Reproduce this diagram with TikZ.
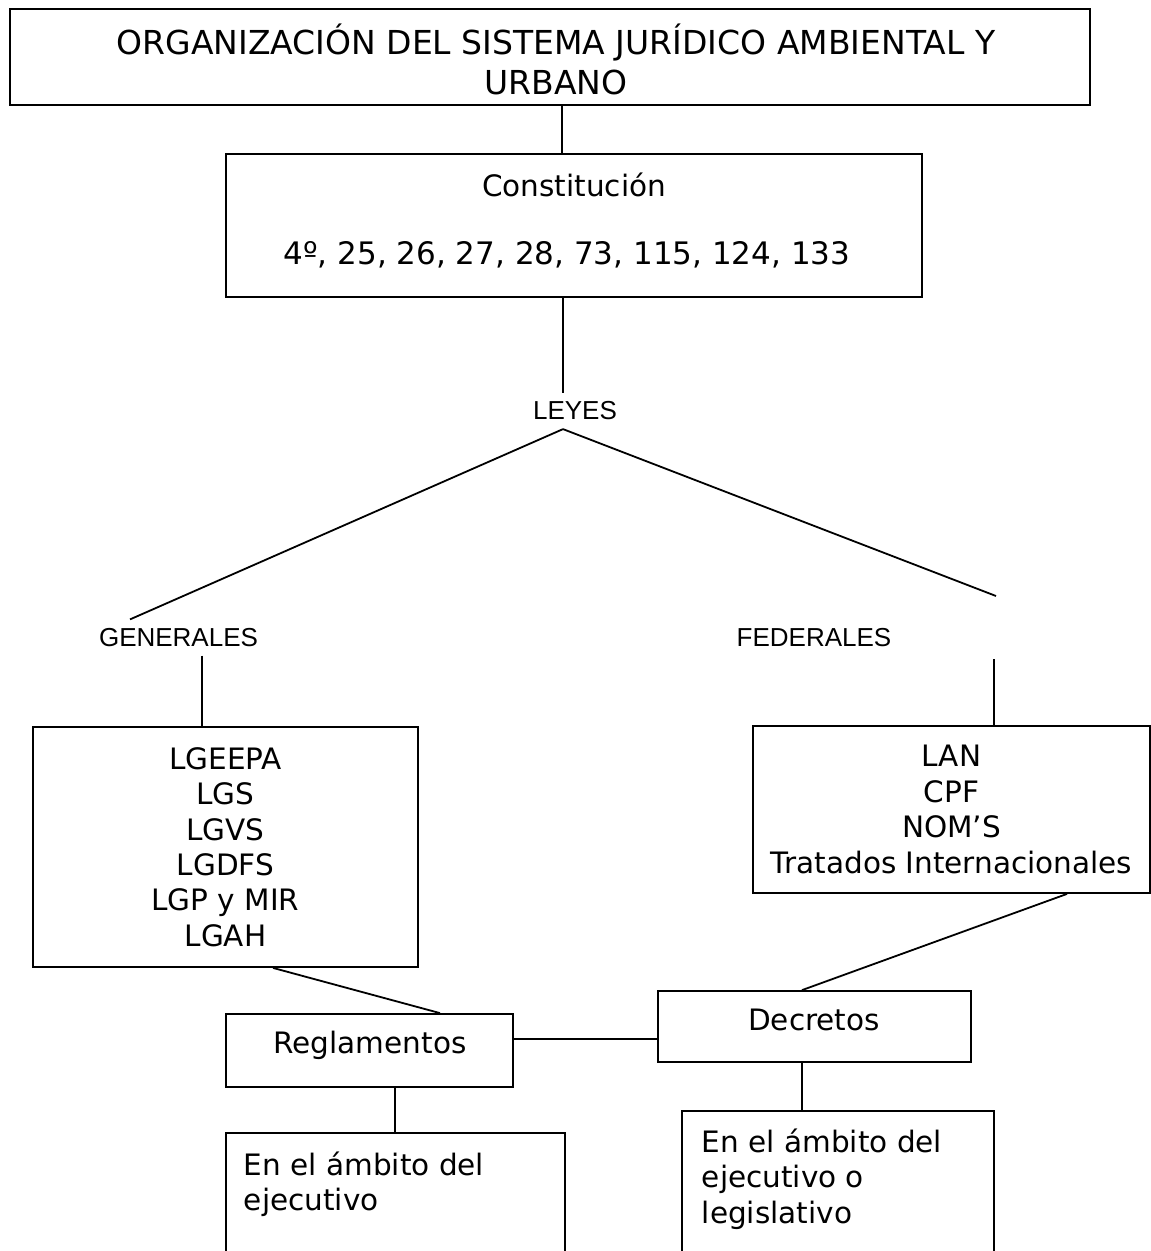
\documentclass[tikz,border=0pt]{standalone}
\usepackage{fontspec}
\setmainfont{DejaVu Sans}
\newfontfamily\arialfont{Liberation Sans}
\usepackage{tikz}

\begin{document}
\begin{tikzpicture}[x=1pt,y=-1pt,line width=1.8pt,
  caja/.style={draw,line width=1.8pt,inner sep=0pt},
  letra/.style={font=\fontsize{29.5}{35.4}\selectfont,inner sep=0pt},
  rotulo/.style={font=\arialfont\fontsize{26}{30}\selectfont,inner sep=8pt}]
\useasboundingbox (0,0) rectangle (1151,1251);

% cajas
\node[caja,minimum width=1080,minimum height=96] (titulo) at (550,57) {};
\node[letra,font=\fontsize{33}{40}\selectfont,align=center] (titulotxt) at (556,59)
  {ORGANIZACIÓN DEL SISTEMA JURÍDICO AMBIENTAL Y\\URBANO};
\node[caja,minimum width=696,minimum height=143] (constitucion) at (574,225.5) {};
\node[letra,anchor=base] (constA) at (574,196) {Constitución};
\node[letra,font=\fontsize{31}{36}\selectfont,anchor=base] (constB) at (567,264)
  {4º, 25, 26, 27, 28, 73, 115, 124, 133};

\node[rotulo] (leyes) at (575,411) {LEYES};
\node[rotulo] (generales) at (178.5,637.5) {GENERALES};
\node[rotulo] (federales) at (814,637.5) {FEDERALES};
\coordinate (cima) at (563,427);
\coordinate (finder) at (996,596);
\coordinate (inicioder) at (994,659);

\node[caja,letra,align=center,minimum width=385,minimum height=240] (lgeepa) at (225.5,847)
  {LGEEPA\\LGS\\LGVS\\LGDFS\\LGP y MIR\\LGAH};
\node[caja,letra,align=center,minimum width=397,minimum height=167] (lan) at (951.5,809.5)
  {LAN\\CPF\\NOM’S\\Tratados Internacionales};

\node[caja,minimum width=287,minimum height=73] (reglamentos) at (369.5,1050.5) {};
\node[letra,anchor=base] (reglatxt) at (370,1053) {Reglamentos};
\node[caja,minimum width=313,minimum height=71] (decretos) at (814.5,1026.5) {};
\node[letra,anchor=base] (decretxt) at (814,1030) {Decretos};

\node[caja,minimum width=339,minimum height=137] (ejecutivo) at (395.5,1201.5) {};
\node[letra,align=left,anchor=north west] (ejectxt) at (243,1151)
  {En el ámbito del\\ejecutivo};
\node[caja,minimum width=312,minimum height=159] (legislativo) at (838,1190.5) {};
\node[letra,align=left,anchor=north west] (legistxt) at (701,1128)
  {En el ámbito del\\ejecutivo o\\legislativo};

% lineas
\draw ([xshift=12pt]titulo.south) -- ([xshift=-12pt]constitucion.north);
\draw (constitucion.south -| cima) -- (leyes.north -| cima);
\draw (leyes.south -| cima) -- ([xshift=-48.5pt]generales.north);
\draw (leyes.south -| cima) -- (finder);
\draw ([xshift=23.5pt]generales.south) -- ([xshift=-23.5pt]lgeepa.north);
\draw (inicioder) -- ([xshift=42.5pt]lan.north);
\draw ([xshift=47.5pt]lgeepa.south) -- ([xshift=70.5pt]reglamentos.north);
\draw ([xshift=115.5pt]lan.south) -- ([xshift=-12.5pt]decretos.north);
\draw ([yshift=11.5pt]reglamentos.east) -- ([yshift=-12.5pt]decretos.west);
\draw ([xshift=25.5pt]reglamentos.south) -- ([xshift=-0.5pt]ejecutivo.north);
\draw ([xshift=-12.5pt]decretos.south) -- ([xshift=-36pt]legislativo.north);
\end{tikzpicture}
\end{document}
